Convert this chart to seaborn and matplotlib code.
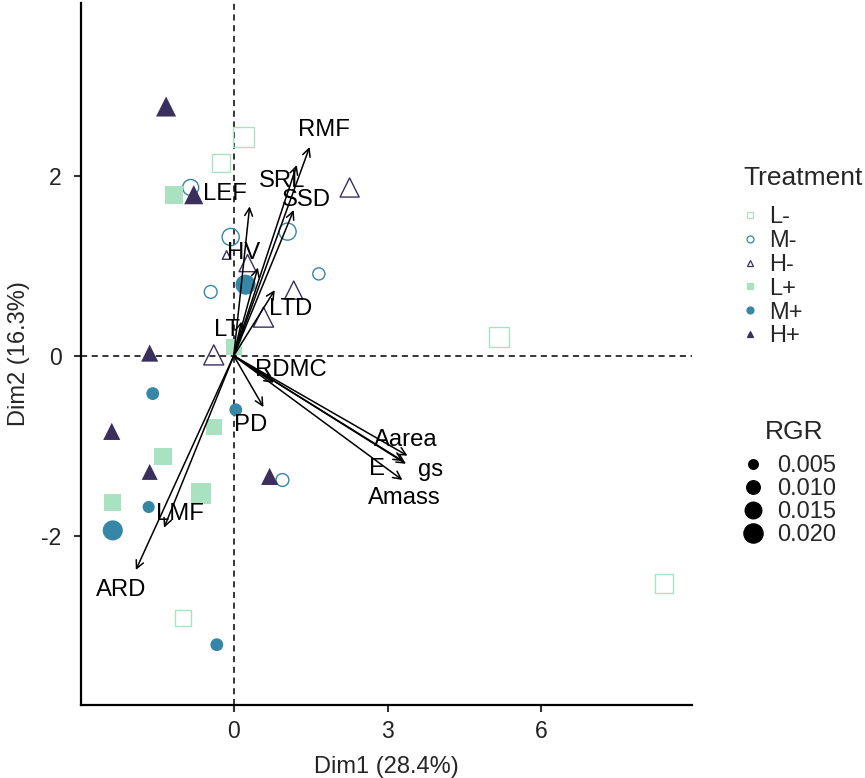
import matplotlib
matplotlib.use("Agg")
import matplotlib.pyplot as plt
from matplotlib.lines import Line2D
import numpy as np
import pandas as pd
import seaborn as sns

# ---- individual scores on the first two PCA dimensions ----
treatment = (["L-"] * 5 + ["M-"] * 6 + ["H-"] * 6 +
             ["L+"] * 6 + ["M+"] * 6 + ["H+"] * 6)
dim1 = [0.19, -0.25, 5.18, 8.40, -0.99,
        -0.84, -0.06, 1.05, 1.66, -0.45, 0.95,
        2.26, -0.14, 1.17, 0.27, 0.58, -0.39,
        -1.17, 0.00, -0.39, -1.38, -0.64, -2.36,
        0.23, -1.58, 0.04, -1.66, -2.36, -0.33,
        -1.32, -0.78, -1.64, -2.38, -1.64, 0.70]
dim2 = [2.43, 2.14, 0.21, -2.53, -2.91,
        1.87, 1.32, 1.38, 0.91, 0.71, -1.38,
        1.87, 1.12, 0.73, 1.03, 0.43, 0.01,
        1.79, 0.10, -0.79, -1.12, -1.53, -1.63,
        0.79, -0.42, -0.60, -1.68, -1.94, -3.21,
        2.77, 1.79, 0.03, -0.84, -1.29, -1.34]
rgr = [0.022, 0.018, 0.022, 0.018, 0.014,
       0.014, 0.016, 0.016, 0.008, 0.009, 0.009,
       0.020, 0.004, 0.018, 0.016, 0.022, 0.022,
       0.018, 0.014, 0.014, 0.016, 0.022, 0.016,
       0.024, 0.009, 0.009, 0.008, 0.022, 0.009,
       0.026, 0.020, 0.016, 0.016, 0.014, 0.016]

# ---- variable loadings (arrow tips) ----
variables = ["RMF", "SRL", "SSD", "LEF", "HV", "LTD", "LT", "RDMC", "PD",
             "Aarea", "E", "gs", "Amass", "LMF", "ARD"]
load1 = [1.48, 1.23, 1.17, 0.31, 0.47, 0.80, 0.15, 0.78, 0.58,
         3.39, 3.30, 3.36, 3.29, -1.36, -1.91]
load2 = [2.32, 2.12, 1.62, 1.66, 0.98, 0.73, 0.38, -0.30, -0.57,
         -1.11, -1.17, -1.20, -1.38, -1.91, -2.38]

treat_levels = ["L-", "M-", "H-", "L+", "M+", "H+"]
rgr_breaks = [0.005, 0.010, 0.015, 0.020]

df = pd.DataFrame({"Treatment": treatment, "Dim1": dim1, "Dim2": dim2, "RGR": rgr})
loads = pd.DataFrame({"var": variables, "x": load1, "y": load2})

# label placement for the loading arrows
label_pos = {
    "RMF": (1.75, 2.51), "SRL": (0.94, 1.94), "SSD": (1.42, 1.73),
    "LEF": (-0.18, 1.80), "HV": (0.19, 1.14), "LTD": (1.11, 0.52),
    "LT": (-0.14, 0.29), "RDMC": (1.11, -0.16), "PD": (0.33, -0.77),
    "Aarea": (3.35, -0.93), "E": (2.79, -1.26), "gs": (3.84, -1.27),
    "Amass": (3.33, -1.58), "LMF": (-1.05, -1.76), "ARD": (-2.20, -2.60),
}

# ---- styling ----
sns.set_style("ticks")
plt.rcParams["font.family"] = ["Liberation Sans", "DejaVu Sans"]
plt.rcParams["axes.unicode_minus"] = False

col_L, col_M, col_H = "#A8E2C0", "#3587A5", "#3B2F5E"
style = {
    "L-": dict(color=col_L, marker="s", filled=False),
    "M-": dict(color=col_M, marker="o", filled=False),
    "H-": dict(color=col_H, marker="^", filled=False),
    "L+": dict(color=col_L, marker="s", filled=True),
    "M+": dict(color=col_M, marker="o", filled=True),
    "H+": dict(color=col_H, marker="^", filled=True),
}
size_range = (28.5, 209)
size_norm = (0.003, 0.022)

fig = plt.figure(figsize=(8.65, 7.78), dpi=100)
ax = fig.add_axes([81 / 865, 1 - 705 / 778, (692 - 81) / 865, (705 - 3) / 778])

ax.axhline(0, color="black", ls=(0, (4, 3)), lw=1.1, zorder=1)
ax.axvline(0, color="black", ls=(0, (4, 3)), lw=1.1, zorder=1)

for t in treat_levels:
    st = style[t]
    sub = df[df["Treatment"] == t]
    sns.scatterplot(
        data=sub, x="Dim1", y="Dim2", size="RGR",
        sizes=size_range, size_norm=size_norm, legend=False,
        marker=st["marker"], color=st["color"],
        facecolor=st["color"] if st["filled"] else "none",
        edgecolor=st["color"], linewidth=0 if st["filled"] else 1.0,
        ax=ax, zorder=2,
    )

# loading arrows
for _, r in loads.iterrows():
    ax.annotate("", xy=(r["x"], r["y"]), xytext=(0, 0),
                arrowprops=dict(arrowstyle="->", color="black", lw=1.1,
                                mutation_scale=14, shrinkA=0, shrinkB=0),
                zorder=3)
    lx, ly = label_pos[r["var"]]
    ax.text(lx, ly, r["var"], ha="center", va="center", fontsize=17.2,
            color="black", zorder=4)

ax.set_xlim(-2.98, 8.94)
ax.set_ylim(-3.88, 3.92)
ax.set_xticks([0, 3, 6])
ax.set_yticks([-2, 0, 2])
ax.set_xlabel("Dim1 (28.4%)", fontsize=17, labelpad=9)
ax.set_ylabel("Dim2 (16.3%)", fontsize=17, labelpad=8)
ax.tick_params(labelsize=16.5, length=5, width=1.5, pad=6,
               color="#333333", labelcolor="#222222")
ax.tick_params(axis="y", pad=9)
for s in ["top", "right"]:
    ax.spines[s].set_visible(False)
for s in ["left", "bottom"]:
    ax.spines[s].set_linewidth(1.6)
    ax.spines[s].set_color("black")

# ---- legends (titles placed separately for ggplot-like spacing) ----
fig.text(743 / 865, 1 - 178 / 778, "Treatment", ha="left", va="center", fontsize=19)
treat_handles = [
    Line2D([], [], ls="none", marker=style[t]["marker"], markersize=5,
           markerfacecolor=style[t]["color"] if style[t]["filled"] else "none",
           markeredgecolor=style[t]["color"], markeredgewidth=0.9, label=t)
    for t in treat_levels
]
leg1 = fig.legend(handles=treat_handles, loc="upper left",
                  bbox_to_anchor=(741 / 865, 1 - 206 / 778), frameon=False,
                  fontsize=17, handlelength=0.8, handletextpad=0.4,
                  labelspacing=0.08, borderaxespad=0, borderpad=0)

def size_of(v):
    lo, hi = size_norm
    return size_range[0] + (v - lo) / (hi - lo) * (size_range[1] - size_range[0])

fig.text(794 / 865, 1 - 432 / 778, "RGR", ha="center", va="center", fontsize=19)
size_handles = [
    Line2D([], [], ls="none", marker="o", markersize=np.sqrt(size_of(v)),
           markerfacecolor="black", markeredgecolor="black",
           label=f"{v:.3f}")
    for v in rgr_breaks
]
leg2 = fig.legend(handles=size_handles, loc="upper left",
                  bbox_to_anchor=(741 / 865, 1 - 455 / 778), frameon=False,
                  fontsize=17, handlelength=1.0, handletextpad=0.55,
                  labelspacing=0.04, borderaxespad=0, borderpad=0)

fig.savefig("out.png", dpi=100)
